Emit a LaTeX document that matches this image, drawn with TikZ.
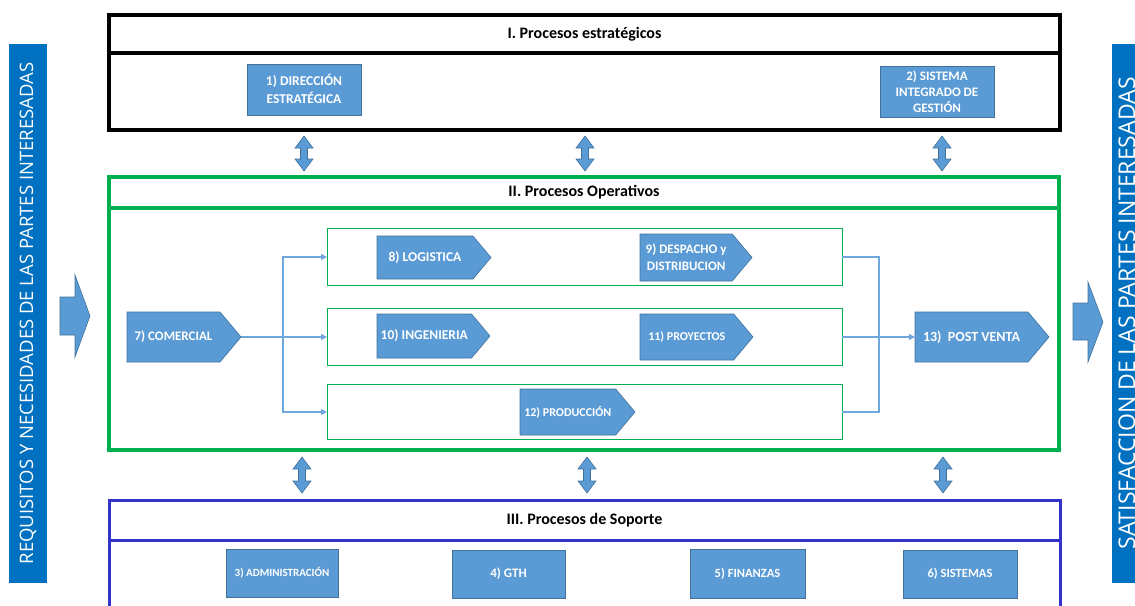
\documentclass[tikz,border=0pt]{standalone}
\usepackage{fontspec}
\setmainfont{Carlito}
\newfontfamily\sidefont{Open Sans}
\usetikzlibrary{shapes.symbols,arrows.meta}
\definecolor{boxblue}{HTML}{5B9BD5}
\definecolor{boxedge}{HTML}{41719C}
\definecolor{barblue}{HTML}{0070C0}
\definecolor{opgreen}{HTML}{00B050}
\definecolor{supblue}{HTML}{3333CC}
\definecolor{linkblue}{HTML}{6FA6DB}
\newcommand\DblArrow[3]{%
  \filldraw[fill=boxblue,draw=boxedge,line width=0.6pt]
    (#1,#2) -- ({#1+9},{#2+12}) -- ({#1+3.5},{#2+12}) -- ({#1+3.5},{#3-12})
    -- ({#1+9},{#3-12}) -- (#1,#3) -- ({#1-9},{#3-12}) -- ({#1-3.5},{#3-12})
    -- ({#1-3.5},{#2+12}) -- ({#1-9},{#2+12}) -- cycle;}
\newcommand\lbl[1]{\bfseries\fontsize{#1}{#1}\selectfont}
\begin{document}
\begin{tikzpicture}[x=1pt,y=-1pt,
  frame/.style={rectangle, inner sep=0pt, outer sep=0pt, minimum width=951pt},
  title/.style={frame, font=\bfseries\fontsize{16}{18}\selectfont},
  proc/.style={rectangle, draw=boxedge, fill=boxblue, text=white, align=center,
    inner sep=1pt, outer sep=0pt, line width=0.6pt},
  pent/.style={signal, signal to=east, signal pointer angle=100, draw=boxedge,
    fill=boxblue, text=white, align=center, inner sep=1pt, outer sep=0pt,
    line width=0.6pt, anchor=west},
  lane/.style={rectangle, draw=opgreen, line width=0.9pt, inner sep=0pt, outer sep=0pt,
    minimum width=515pt},
  link/.style={draw=linkblue, line width=1.1pt},
  linkarr/.style={link, -{Triangle[length=6pt,width=6pt]}},
  bigarr/.style={fill=boxblue, draw=boxedge, line width=0.6pt},
  sidebar/.style={rectangle, fill=barblue, text=white, rotate=90, inner sep=0pt,
    minimum width=539pt}
]
\useasboundingbox (0,0) rectangle (1135,605);

% side bars
\node[sidebar, minimum height=38pt, font=\sidefont\fontsize{18.5}{20}\selectfont]
  (lbar) at (28,313.5) {REQUISITOS Y NECESIDADES DE LAS PARTES INTERESADAS};
\node[sidebar, minimum height=30pt, font=\sidefont\fontsize{23}{25}\selectfont]
  (rbar) at (1127,313.5) {SATISFACCION DE LAS PARTES INTERESADAS};

% big arrows
\filldraw[bigarr] (60,297) -- (75,297) -- (75,275) -- (90,316) -- (75,357) -- (75,335) -- (60,335) -- cycle;
\filldraw[bigarr] (1073,303) -- (1088,303) -- (1088,282) -- (1103,322) -- (1088,362) -- (1088,340) -- (1073,340) -- cycle;

% I. strategic
\node[frame, draw=black, line width=4pt, minimum height=77pt] (b1) at (584.5,91.5) {};
\node[title, draw=black, line width=4pt, minimum height=38pt, text depth=2pt] (h1) at (584.5,34) {I. Procesos estratégicos};
\node[proc, minimum width=114pt, minimum height=51pt, font=\lbl{13.5}, text depth=1pt] (dir) at (304,89.5) {1) DIRECCIÓN\\[5pt]ESTRATÉGICA};
\node[proc, minimum width=114pt, minimum height=51pt, font=\lbl{13}] (sig) at (937,92) {2) SISTEMA\\[3pt]INTEGRADO DE\\[3pt]GESTIÓN};

% II. operative
\node[frame, draw=opgreen, line width=4pt, minimum width=950pt, minimum height=242pt] (b2) at (584,329) {};
\node[title, draw=opgreen, line width=4pt, minimum width=950pt, minimum height=31pt] (h2) at (584,192.5) {II. Procesos Operativos};

\node[lane, minimum height=57pt] (r1) at (584.5,257) {};
\node[lane, minimum height=57pt] (r2) at (584.5,337) {};
\node[lane, minimum height=55pt] (r3) at (584.5,412) {};

\node[pent, minimum width=114pt, minimum height=50pt, font=\lbl{13}] (com) at (127,337) {7) COMERCIAL};
\node[pent, minimum width=114pt, minimum height=43pt, font=\lbl{13.5}] (log) at (377,257.5) {8) LOGISTICA};
\node[pent, minimum width=112pt, minimum height=47pt, font=\lbl{13}] (des) at (640,257.5) {9) DESPACHO y\\[4pt]DISTRIBUCION};
\node[pent, minimum width=113pt, minimum height=44pt, font=\lbl{13.5}] (ing) at (377,336) {10) INGENIERIA};
\node[pent, minimum width=113pt, minimum height=46pt, font=\lbl{12}] (pro) at (640,337) {11) PROYECTOS};
\node[pent, minimum width=115pt, minimum height=46pt, font=\lbl{12}] (prod) at (520,412) {12) PRODUCCIÓN};
\node[pent, minimum width=134pt, minimum height=50pt, font=\lbl{14}] (post) at (915,337) {13)\ \ POST VENTA};

\coordinate (jl) at (283,337);
\coordinate (jr) at (879,337);
\draw[link] (com.east) -- (jl);
\draw[linkarr] (jl) |- (r1.west);
\draw[linkarr] (jl) -- (r2.west);
\draw[linkarr] (jl) |- (r3.west);
\draw[link] (r1.east) -| (jr);
\draw[link] (r3.east) -| (jr);
\draw[linkarr] (r2.east) -- (post.west);

% III. support
\node[frame, draw=supblue, line width=3pt, minimum height=80pt] (b3) at (584.5,580) {};
\node[title, draw=supblue, line width=3pt, minimum height=40pt] (h3) at (584.5,520) {III. Procesos de Soporte};
\node[proc, minimum width=112pt, minimum height=48pt, font=\lbl{11}] (adm) at (282,573) {3) ADMINISTRACIÓN};
\node[proc, minimum width=113pt, minimum height=48pt, font=\lbl{13}] (gth) at (508.5,574) {4) GTH};
\node[proc, minimum width=115pt, minimum height=49pt, font=\lbl{12.5}] (fin) at (747.5,573.5) {5) FINANZAS};
\node[proc, minimum width=114pt, minimum height=48pt, font=\lbl{12.5}] (sis) at (960,574) {6) SISTEMAS};

% double arrows between blocks
\DblArrow{304}{136}{171}
\DblArrow{585}{136}{171}
\DblArrow{942}{136}{171}
\DblArrow{302}{457}{493}
\DblArrow{587}{457}{493}
\DblArrow{943}{457}{493}
\end{tikzpicture}
\end{document}
